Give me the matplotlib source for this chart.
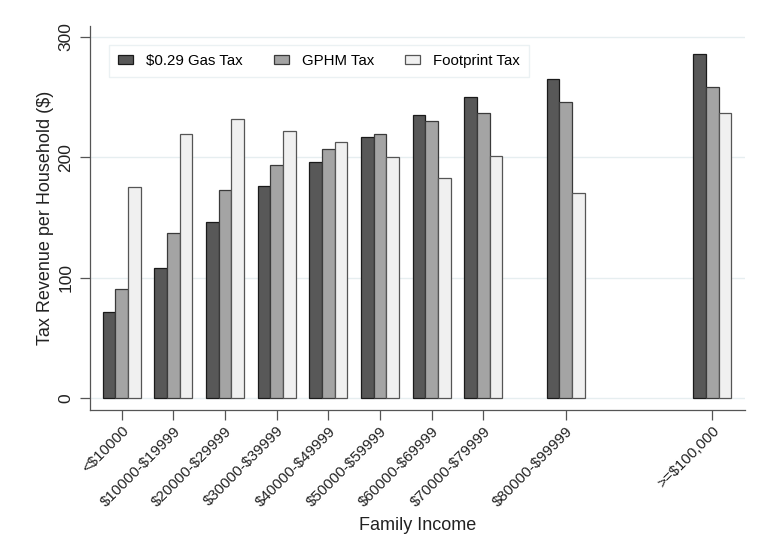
import matplotlib
matplotlib.use("Agg")
import matplotlib.pyplot as plt
import numpy as np

plt.rcParams['font.family'] = ['Liberation Sans', 'DejaVu Sans']

categories = ["<$10000", "$10000-$19999", "$20000-$29999", "$30000-$39999",
              "$40000-$49999", "$50000-$59999", "$60000-$69999", "$70000-$79999",
              "$80000-$99999", ">=$100,000"]
positions = [0, 1, 2, 3, 4, 5, 6, 7, 8.59, 11.43]
gas_tax = [72, 108, 146, 176, 196, 217, 235, 250, 265, 286]
gphm_tax = [91, 137, 173, 194, 207, 219.5, 230, 237, 246, 258]
footprint_tax = [175, 219.5, 232, 221.5, 213, 200, 182.5, 201, 170, 237]
series_names = ["$0.29 Gas Tax", "GPHM Tax", "Footprint Tax"]

def esc(s):
    return s.replace('$', r'\$')

fig = plt.figure(figsize=(7.69, 5.47), dpi=100)
ax = fig.add_axes([90/769, 1-410/547, 655/769, 384/547])

x = np.array(positions)
w = 0.245
colors = ["#585858", "#a4a4a4", "#f0f0f0"]
edges = ["#1a1a1a", "#3a3a3a", "#555555"]
for i, (vals, name) in enumerate(zip([gas_tax, gphm_tax, footprint_tax], series_names)):
    ax.bar(x + (i-1)*w, vals, width=w, color=colors[i], edgecolor=edges[i],
           linewidth=0.9, label=esc(name), zorder=3)

ax.set_xlim(-0.61, 12.06)
ax.set_ylim(-9.7, 309)
ax.set_yticks([0, 100, 200, 300])
ax.set_yticklabels(["0", "100", "200", "300"], rotation=90, va='center', fontsize=12.5)
ax.grid(axis='y', color='#e6eef0', linewidth=1, zorder=0)
ax.set_xticks(x)
ax.set_xticklabels([esc(c) for c in categories], rotation=45, ha='right',
                   rotation_mode='anchor', fontsize=10.8)

for s in ['top', 'right']:
    ax.spines[s].set_visible(False)
for s in ['left', 'bottom']:
    ax.spines[s].set_color('#555555')
    ax.spines[s].set_linewidth(0.9)
ax.tick_params(axis='both', colors='#555555', length=7, width=0.9, labelcolor='#222222')
ax.tick_params(axis='y', pad=5)
ax.tick_params(axis='x', pad=3)

ax.set_ylabel("Tax Revenue per Household ($)", fontsize=13, color='#222222', labelpad=3)
ax.set_xlabel("Family Income", fontsize=13, color='#222222', labelpad=6)

leg = ax.legend(loc='upper left', bbox_to_anchor=(0.029, 0.9505),
                ncol=3, fontsize=10.8, frameon=True, fancybox=False,
                handlelength=1.0, handleheight=0.6, handletextpad=0.85,
                columnspacing=2.1, borderaxespad=0, borderpad=0.6)
leg.get_frame().set_edgecolor('#e6eef0')
leg.get_frame().set_linewidth(1)

fig.savefig("out.png", dpi=100)
